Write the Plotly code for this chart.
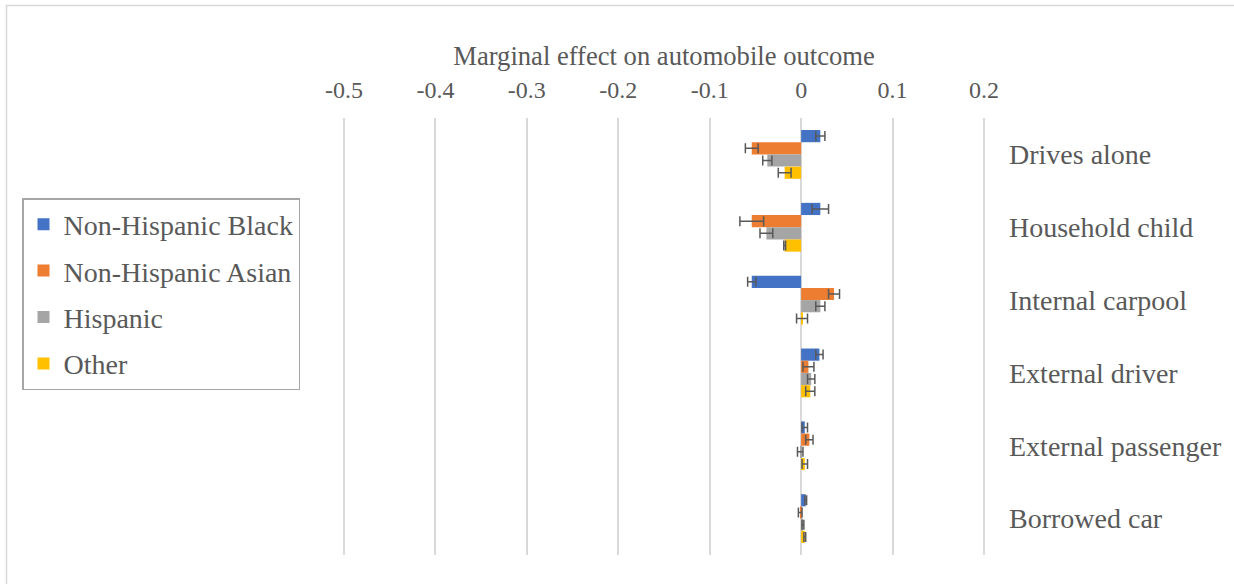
import plotly.graph_objects as go

# Marginal effects by race/ethnicity on each automobile outcome
categories = ["Drives alone", "Household child", "Internal carpool",
              "External driver", "External passenger", "Borrowed car"]

black = [0.021, 0.021, -0.054, 0.020, 0.004, 0.005]
black_err = [0.005, 0.009, 0.0045, 0.004, 0.003, 0.001]

asian = [-0.054, -0.054, 0.036, 0.008, 0.009, -0.001]
asian_err = [0.007, 0.013, 0.006, 0.006, 0.004, 0.002]

hispanic = [-0.037, -0.038, 0.021, 0.011, -0.001, 0.002]
hispanic_err = [0.005, 0.007, 0.005, 0.004, 0.003, 0.001]

other = [-0.018, -0.018, 0.001, 0.010, 0.004, 0.004]
other_err = [0.007, 0.001, 0.006, 0.005, 0.003, 0.001]

tick_vals = [-0.5, -0.4, -0.3, -0.2, -0.1, 0, 0.1, 0.2]
tick_text = ["-0.5", "-0.4", "-0.3", "-0.2", "-0.1", "0", "0.1", "0.2"]

series = [
    ("Non-Hispanic Black", black, black_err, "#4472C4"),
    ("Non-Hispanic Asian", asian, asian_err, "#ED7D31"),
    ("Hispanic", hispanic, hispanic_err, "#A5A5A5"),
    ("Other", other, other_err, "#FFC000"),
]

FONT = "Liberation Serif, Times New Roman, serif"
TEXT = "#595959"

fig = go.Figure()
for i, (name, vals, errs, color) in enumerate(series):
    fig.add_trace(go.Bar(
        name=name, y=categories, x=vals, orientation="h",
        marker=dict(color=color, line=dict(width=0)),
        error_x=dict(type="data", array=errs, visible=True,
                     color="#595959", thickness=1.5, width=5),
        legendgroup=f"g{i}",
    ))

fig.update_layout(
    width=1234, height=584,
    margin=dict(l=339, r=245, t=118, b=29),
    paper_bgcolor="white", plot_bgcolor="white",
    barmode="group", bargap=0.33, bargroupgap=0,
    font=dict(family=FONT, color=TEXT),
    xaxis=dict(
        side="top", range=[-0.5055, 0.2055],
        tickvals=tick_vals, ticktext=tick_text,
        tickfont=dict(size=24, family=FONT, color=TEXT),
        showgrid=True, gridcolor="#d9d9d9", gridwidth=1.5,
        zeroline=False, showline=False, ticks="",
        ticklabelstandoff=14,
        title=dict(text="Marginal effect on automobile outcome",
                   font=dict(size=26.6, family=FONT, color=TEXT),
                   standoff=3),
    ),
    yaxis=dict(
        side="right", autorange="reversed",
        tickfont=dict(size=28, family=FONT, color=TEXT),
        showgrid=False, zeroline=False, showline=False, ticks="",
        ticklabelstandoff=19,
    ),
    legend=dict(
        x=(22 - 339) / 650, xanchor="left",
        y=(555 - 198) / 437, yanchor="top",
        bordercolor="#a6a6a6", borderwidth=1.5, bgcolor="white",
        font=dict(size=28, family=FONT, color=TEXT),
        traceorder="grouped", tracegroupgap=7,
    ),
    shapes=[dict(
        type="rect", xref="paper", yref="paper",
        x0=(6.5 - 339) / 650, x1=(1245 - 339) / 650,
        y0=(555 - 595) / 437, y1=(555 - 5.5) / 437,
        line=dict(color="#d9d9d9", width=1.5), fillcolor="rgba(0,0,0,0)",
        layer="below",
    )],
)

fig.write_html("out.html")
